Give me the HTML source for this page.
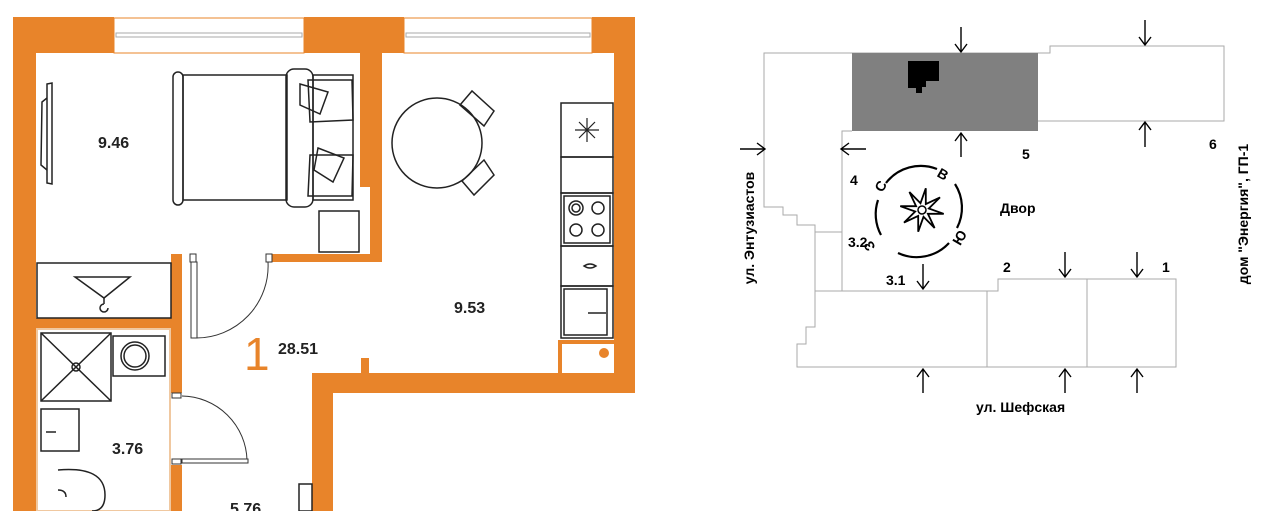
<!DOCTYPE html>
<html><head><meta charset="utf-8"><style>
html,body{margin:0;padding:0;background:#fff;}
svg{display:block;}
text{font-family:"Liberation Sans","DejaVu Sans",sans-serif;}
</style></head><body>
<svg width="1280" height="511" viewBox="0 0 1280 511" xmlns="http://www.w3.org/2000/svg">
<rect width="1280" height="511" fill="#fff"/>
<!-- ===== FLOOR PLAN ===== -->
<g fill="#E8842A">
  <rect x="13" y="17" width="23" height="494"/>
  <rect x="13" y="17" width="101" height="36"/>
  <rect x="304" y="17" width="100" height="36"/>
  <rect x="592" y="17" width="43" height="36"/>
  <rect x="614" y="17" width="21" height="376"/>
  <rect x="360" y="17" width="22" height="170"/>
  <rect x="370" y="150" width="12" height="112"/>
  <rect x="270" y="254" width="112" height="8"/>
  <rect x="171" y="254" width="11" height="139"/>
  <rect x="36" y="318" width="135" height="10"/>
  <rect x="312" y="373" width="323" height="20"/>
  <rect x="312" y="373" width="21" height="138"/>
  <rect x="361" y="358" width="8" height="15"/>
  <rect x="171" y="465" width="11" height="46"/>
  <rect x="558" y="340" width="59" height="4"/>
  <rect x="558" y="340" width="4" height="33"/>
  <circle cx="604" cy="353" r="5"/>
</g>
<g fill="none" stroke="#E8842A" stroke-width="1">
  <rect x="114" y="18" width="190" height="35"/>
  <rect x="404" y="18" width="188" height="35"/>
</g>
<g fill="none" stroke="#aaa" stroke-width="1">
  <rect x="116" y="33" width="186" height="4"/>
  <rect x="406" y="33" width="184" height="4"/>
</g>
<rect x="37" y="329" width="133" height="182" fill="none" stroke="#f0c8a0" stroke-width="2"/>
<g fill="none" stroke="#222" stroke-width="1.5">
  <path d="M47 84 L52 83 L52 184 L47 183 Z"/>
  <path d="M47 98 L42 102 L41 165 L47 170"/>
  <rect x="173" y="72" width="10" height="133" rx="5"/>
  <rect x="183" y="75" width="104" height="125"/>
  <rect x="286" y="69" width="27" height="138" rx="8"/>
  <rect x="313" y="75" width="40" height="125"/>
  <path d="M308 80 L352 80 L353 120 L310 122 Z"/>
  <path d="M310 155 L353 155 L352 196 L308 196 Z"/>
  <path d="M300 84 L328 92 L320 114 L300 105 Z"/>
  <path d="M318 148 L344 158 L333 182 L314 170 Z"/>
  <rect x="319" y="211" width="40" height="41"/>
  <circle cx="437" cy="143" r="45"/>
  <path d="M460 105 L472 91 L494 111 L484 126 Z"/>
  <path d="M462 181 L474 195 L494 175 L484 160 Z"/>
  <rect x="561" y="103" width="52" height="54"/>
  <rect x="561" y="157" width="52" height="36"/>
  <rect x="561" y="193" width="52" height="53"/>
  <rect x="564" y="196" width="46" height="47"/>
  <circle cx="576" cy="208" r="7"/><circle cx="576" cy="208" r="4"/>
  <circle cx="598" cy="208" r="6"/><circle cx="576" cy="230" r="6"/><circle cx="598" cy="230" r="6"/>
  <rect x="561" y="246" width="52" height="40"/>
  <path d="M584 266 Q590 262 596 266 Q590 270 584 266Z"/>
  <rect x="561" y="286" width="52" height="52"/>
  <rect x="564" y="289" width="43" height="46"/>
  <path d="M588 313 L606 313"/>
  <rect x="37" y="263" width="134" height="55"/>
  <path d="M75 277 L130 277 L104 298 Z"/>
  <path d="M104 298 L104 304 M104 304 a4 4 0 1 0 4 4"/>
  <rect x="41" y="333" width="70" height="68"/>
  <path d="M41 333 L111 401 M111 333 L41 401"/>
  <circle cx="76" cy="367" r="4"/>
  <rect x="113" y="336" width="52" height="40"/>
  <circle cx="135" cy="356" r="14"/><circle cx="135" cy="356" r="11"/>
  <rect x="41" y="409" width="38" height="42"/>
  <path d="M46 432 L56 432"/>
  <path d="M58 470 Q105 466 105 495 Q105 511 92 511"/>
  <path d="M58 490 Q66 490 66 497"/>
  <rect x="299" y="484" width="13" height="27"/>
</g>
<g fill="none" stroke="#333" stroke-width="1">
  <rect x="191" y="262" width="6" height="76" fill="#fff"/>
  <path d="M196 338 A72 72 0 0 0 268 262"/>
  <rect x="266" y="254" width="6" height="8" fill="#fff"/>
  <rect x="190" y="254" width="6" height="8" fill="#fff"/>
  <path d="M182 396 A66 66 0 0 1 247 460"/>
  <rect x="182" y="459" width="66" height="4" fill="#fff"/>
  <rect x="172" y="393" width="9" height="5" fill="#fff"/>
  <rect x="172" y="459" width="9" height="5" fill="#fff"/>
</g>
<g stroke="#222" stroke-width="1.2">
  <path d="M587 118 L587 142 M575 130 L599 130 M579 122 L595 138 M595 122 L579 138"/>
</g>
<g font-weight="bold" fill="#222" font-size="16">
  <text x="98" y="148">9.46</text>
  <text x="454" y="313">9.53</text>
  <text x="278" y="354">28.51</text>
  <text x="112" y="454">3.76</text>
  <text x="230" y="514">5.76</text>
</g>
<text x="244" y="370" font-size="46" fill="#E8842A">1</text>

<!-- ===== SITE PLAN ===== -->
<g fill="none" stroke="#aaa" stroke-width="1">
  <path d="M1038 53 L764 53 L764 207 L783 207 L783 215 L797 215 L797 225 L815 225 L815 291"/>
  <path d="M852 131 L842 131 L842 291"/>
  <path d="M815 232 L842 232"/>
  <path d="M815 291 L987 291 L998 291 L998 279 L1176 279 L1176 367 L797 367 L797 344 L806 344 L806 327 L815 327 L815 291"/>
  <path d="M987 291 L987 367 M1087 279 L1087 367"/>
  <path d="M1038 53 L1050 53 L1050 46 L1224 46 L1224 121 L1038 121"/>
</g>
<rect x="852" y="53" width="186" height="78" fill="#808080"/>
<path d="M908 61 L939 61 L939 81 L926 81 L926 87 L922 87 L922 93 L916 93 L916 88 L908 88 Z" fill="#000"/>
<g stroke="#000" stroke-width="1.4" fill="none">
  <path d="M961 27 L961 52 M955 44 L961 52 L967 44"/>
  <path d="M961 157 L961 133 M955 141 L961 133 L967 141"/>
  <path d="M1145 20 L1145 45 M1139 37 L1145 45 L1151 37"/>
  <path d="M1145 147 L1145 122 M1139 130 L1145 122 L1151 130"/>
  <path d="M740 149 L765 149 M757 143 L765 149 L757 155"/>
  <path d="M866 149 L841 149 M849 143 L841 149 L849 155"/>
  <path d="M923 264 L923 289 M917 281 L923 289 L929 281"/>
  <path d="M1065 252 L1065 277 M1059 269 L1065 277 L1071 269"/>
  <path d="M1137 252 L1137 277 M1131 269 L1137 277 L1143 269"/>
  <path d="M923 393 L923 369 M917 377 L923 369 L929 377"/>
  <path d="M1065 393 L1065 369 M1059 377 L1065 369 L1071 377"/>
  <path d="M1137 393 L1137 369 M1131 377 L1137 369 L1143 377"/>
</g>
<g stroke="#000" stroke-width="2.2" fill="none">
  <path d="M886 183 A44 44 0 0 1 937 169"/>
  <path d="M955 184 A44 44 0 0 1 957 228"/>
  <path d="M949 243 A44 44 0 0 1 898 253"/>
  <path d="M881 235 A44 44 0 0 1 878 200"/>
</g>
<polygon fill="none" stroke="#000" stroke-width="1.8" stroke-linejoin="miter" points="925.8,188.3 925.8,204.1 940,197.4 928.8,208.5 943.7,213.8 927.9,213.8 934.6,228 923.5,216.8 918.2,231.7 918.2,215.9 904,222.6 915.2,211.5 900.3,206.2 916.1,206.2 909.4,192 920.5,203.2"/>
<circle cx="922" cy="210" r="4" fill="none" stroke="#000" stroke-width="1.5"/>
<g font-size="14" fill="#000" font-weight="bold">
  <text x="876" y="192" transform="rotate(-60 880 187)">С</text>
  <text x="938" y="179" transform="rotate(30 943 174)">В</text>
  <text x="952" y="244" transform="rotate(-60 958 238)">Ю</text>
  <text x="863" y="252" transform="rotate(-120 868 246)">З</text>
</g>
<g font-size="14" fill="#000" font-weight="bold">
  <text x="1022" y="159">5</text>
  <text x="1209" y="149">6</text>
  <text x="850" y="185">4</text>
  <text x="848" y="247">3.2</text>
  <text x="886" y="285">3.1</text>
  <text x="1003" y="272">2</text>
  <text x="1162" y="272">1</text>
  <text x="1000" y="213">Двор</text>
  <text x="976" y="412">ул. Шефская</text>
  <text transform="translate(754 228) rotate(-90)" text-anchor="middle">ул. Энтузиастов</text>
  <text transform="translate(1248 214) rotate(-90)" text-anchor="middle">дом "Энергия", ГП-1</text>
</g>
</svg>
</body></html>
